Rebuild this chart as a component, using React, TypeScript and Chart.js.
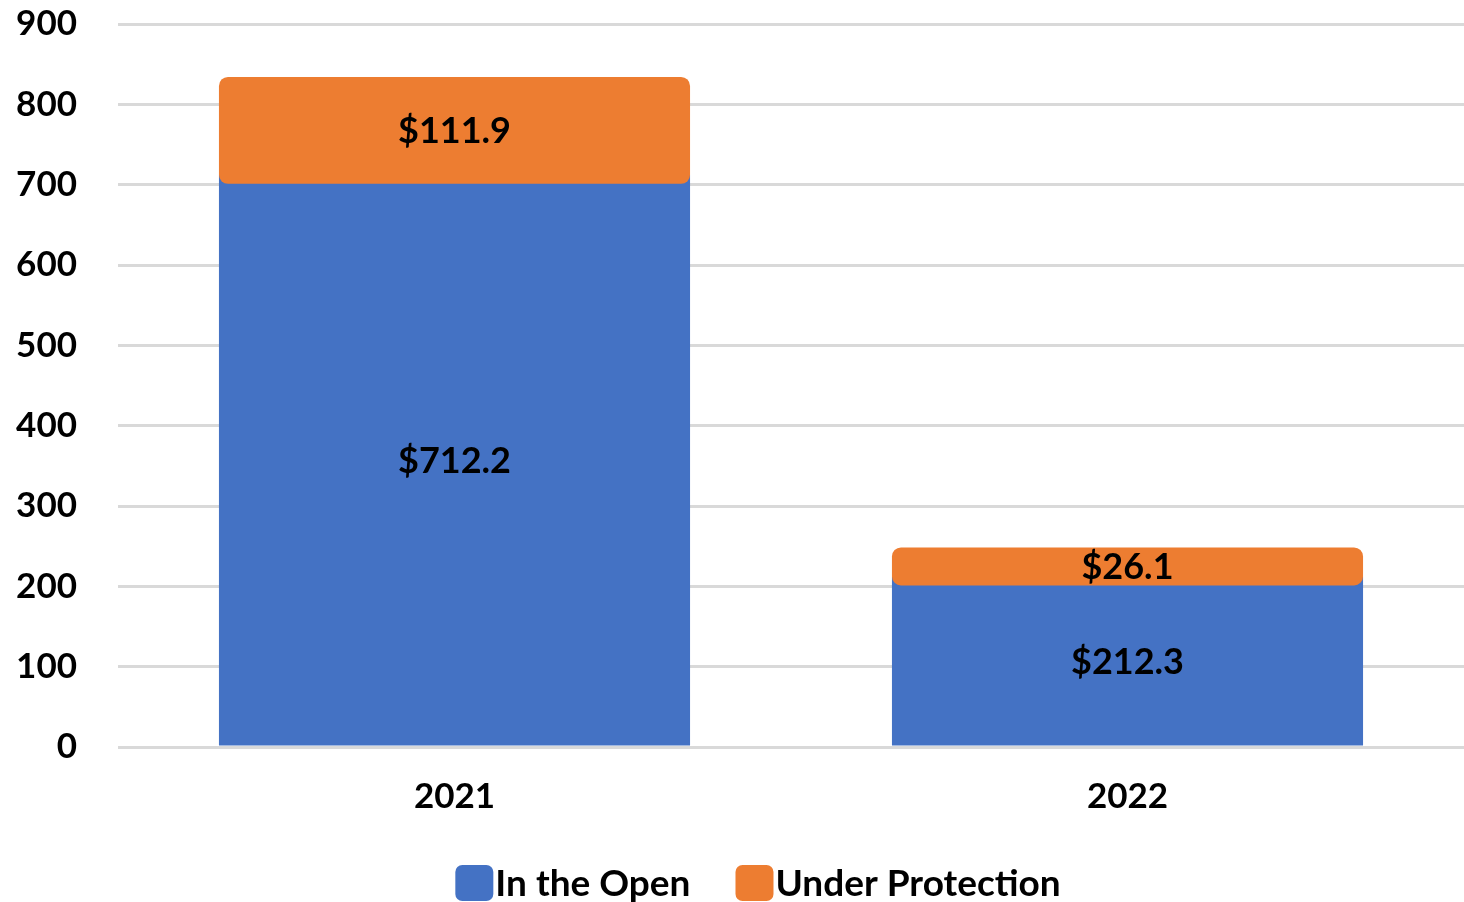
import React, { useEffect, useRef } from "react";
import { Chart, registerables } from "chart.js";

Chart.register(...registerables);

const categories = ["2021", "2022"];
const inTheOpen = [712.2, 212.3];
const underProtection = [111.9, 26.1];
const seriesNames = ["In the Open", "Under Protection"];
const seriesColors = ["#4472C4", "#ED7D31"];
const yMin = 0;
const yMax = 900;
const yStep = 100;

const FONT = "Lato";

function drawOrange(chart: any) {
  const ctx = chart.ctx;
  const meta = chart.getDatasetMeta(1);
  ctx.save();
  ctx.fillStyle = seriesColors[1];
  meta.data.forEach((el: any) => {
    const { x, y, base, width } = el.getProps(["x", "y", "base", "width"], true);
    const left = x - width / 2;
    const top = y - 8;
    const h = base + 9 - top;
    ctx.beginPath();
    ctx.roundRect(left, top, width, h, 9);
    ctx.fill();
  });
  ctx.restore();
}

const barsAndLabelsPlugin = {
  id: "barsAndLabels",
  beforeDatasetDraw(chart: any, args: any) {
    if (args.index === 1) return false;
  },
  afterDatasetsDraw(chart: any) {
    drawOrange(chart);
    const ctx = chart.ctx;
    ctx.save();
    ctx.font = `bold 36px ${FONT}`;
    ctx.fillStyle = "#000000";
    ctx.textAlign = "center";
    ctx.textBaseline = "middle";
    chart.data.datasets.forEach((ds: any, di: number) => {
      const meta = chart.getDatasetMeta(di);
      meta.data.forEach((el: any, i: number) => {
        const { x, y, base } = el.getProps(["x", "y", "base"], true);
        ctx.fillText("$" + Number(ds.data[i]).toFixed(1), x, (y + base) / 2 + 1);
      });
    });
    ctx.restore();
  },
};

const legendPlugin = {
  id: "customLegend",
  afterDraw(chart: any) {
    const ctx = chart.ctx;
    ctx.save();
    ctx.font = `bold 37px ${FONT}`;
    ctx.textBaseline = "middle";
    ctx.textAlign = "left";
    const boxW = 38;
    const boxH = 36;
    const gap = 2;
    const itemGap = 45;
    const items = chart.data.datasets.map((ds: any) => ({
      label: ds.label,
      color: ds.backgroundColor,
      w: ctx.measureText(ds.label).width,
    }));
    const total =
      items.reduce((s: number, it: any) => s + boxW + gap + it.w, 0) +
      itemGap * (items.length - 1);
    let x = chart.width / 2 + 26 - total / 2;
    const cy = chart.chartArea.bottom + 136;
    items.forEach((it: any) => {
      ctx.fillStyle = it.color;
      ctx.beginPath();
      ctx.roundRect(x, cy - boxH / 2, boxW, boxH, 7);
      ctx.fill();
      ctx.fillStyle = "#000000";
      ctx.fillText(it.label, x + boxW + gap, cy + 1);
      x += boxW + gap + it.w + itemGap;
    });
    ctx.restore();
  },
};

export default function App() {
  const canvasRef = useRef<HTMLCanvasElement | null>(null);

  useEffect(() => {
    document.body.style.margin = "0";
    let chart: Chart | null = null;
    let cancelled = false;
    const make = () => {
      if (cancelled || !canvasRef.current) return;
      chart = new Chart(canvasRef.current, {
        type: "bar",
        data: {
          labels: categories,
          datasets: [
            {
              label: seriesNames[0],
              data: inTheOpen,
              backgroundColor: seriesColors[0],
              borderWidth: 0,
            },
            {
              label: seriesNames[1],
              data: underProtection,
              backgroundColor: seriesColors[1],
              borderWidth: 0,
            },
          ],
        },
        options: {
          animation: false,
          responsive: false,
          maintainAspectRatio: false,
          layout: { autoPadding: false, padding: { top: 24, right: 0, bottom: 85, left: 0 } },
          plugins: {
            legend: { display: false },
            title: { display: false },
            tooltip: { enabled: false },
          },
          datasets: {
            bar: { categoryPercentage: 1, barPercentage: 0.7 },
          },
          scales: {
            x: {
              stacked: true,
              grid: { display: false, drawTicks: false },
              border: { display: false },
              ticks: {
                color: "#000000",
                font: { family: FONT, size: 35, weight: "bold" },
                padding: 29,
              },
              afterFit: (scale: any) => {
                scale.height = 70;
                scale.paddingLeft = 0;
                scale.paddingRight = 0;
                scale.paddingTop = 0;
                scale.paddingBottom = 0;
              },
            },
            y: {
              stacked: true,
              min: yMin,
              max: yMax,
              grid: { color: "#d9d9d9", lineWidth: 3, drawTicks: false },
              border: { display: false },
              ticks: {
                stepSize: yStep,
                color: "#000000",
                font: { family: FONT, size: 35, weight: "bold" },
                padding: 41,
              },
              afterFit: (scale: any) => {
                scale.width = 118;
                scale.paddingLeft = 0;
                scale.paddingRight = 0;
                scale.paddingTop = 0;
                scale.paddingBottom = 0;
              },
            },
          },
        },
        plugins: [barsAndLabelsPlugin, legendPlugin],
      });
    };
    const fonts: any = (document as any).fonts;
    if (fonts && fonts.load) {
      fonts.load(`bold 32px ${FONT}`).then(make, make);
    } else {
      make();
    }
    return () => {
      cancelled = true;
      if (chart) chart.destroy();
    };
  }, []);

  return (
    <div style={{ width: 1464, height: 902 }}>
      <canvas ref={canvasRef} width={1464} height={902} style={{ display: "block" }} />
    </div>
  );
}
